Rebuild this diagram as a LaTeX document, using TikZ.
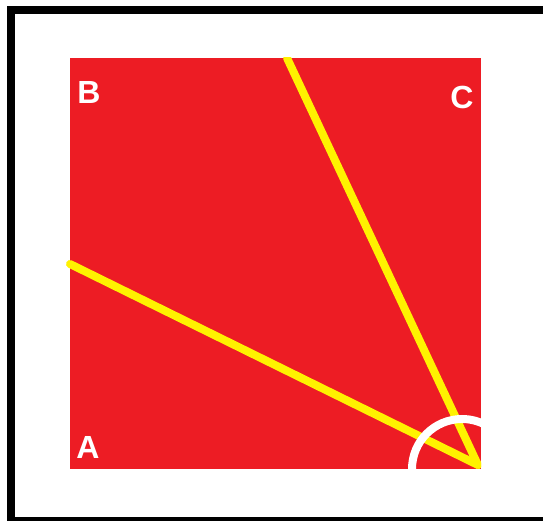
\documentclass[tikz,border=0pt]{standalone}
\usepackage{fontspec}
\setmainfont{Liberation Sans}
\definecolor{paintred}{RGB}{237,28,36}
\definecolor{paintyellow}{RGB}{255,242,0}
\begin{document}
\begin{tikzpicture}[x=1pt,y=-1pt,
  frame/.style={draw=black,line width=8pt},
  ray/.style={draw=paintyellow,line width=8pt,line cap=round},
  anglearc/.style={draw=white,line width=8pt},
  corner/.style={text=white,font=\bfseries\fontsize{32}{32}\selectfont,inner sep=0pt}]
\useasboundingbox (0,0) rectangle (543,521);
\clip (0,0) rectangle (543,521);
\fill[white] (0,0) rectangle (543,521);
% frame (right side lies outside the picture)
\draw[frame] (11,10) rectangle (560,521);
% red square
\fill[paintred] (70,58) rectangle (481,469);
% rays
\coordinate (O) at (478,465);
\coordinate (P) at (70,264);
\coordinate (Q) at (287,58);
\begin{scope}
\clip (66,58) rectangle (481,472);
\draw[ray] (O) -- (P);
\draw[ray] (O) -- (Q);
\end{scope}
% angle arc
\begin{scope}
\clip (60,40) rectangle (481,469);
\draw[anglearc] (412,469) arc[start angle=180,end angle=300,radius=50];
\end{scope}
% labels
\node[corner] (B) at (89,92) {B};
\node[corner] (C) at (462,97) {C};
\node[corner] (A) at (88,447) {A};
\end{tikzpicture}
\end{document}
